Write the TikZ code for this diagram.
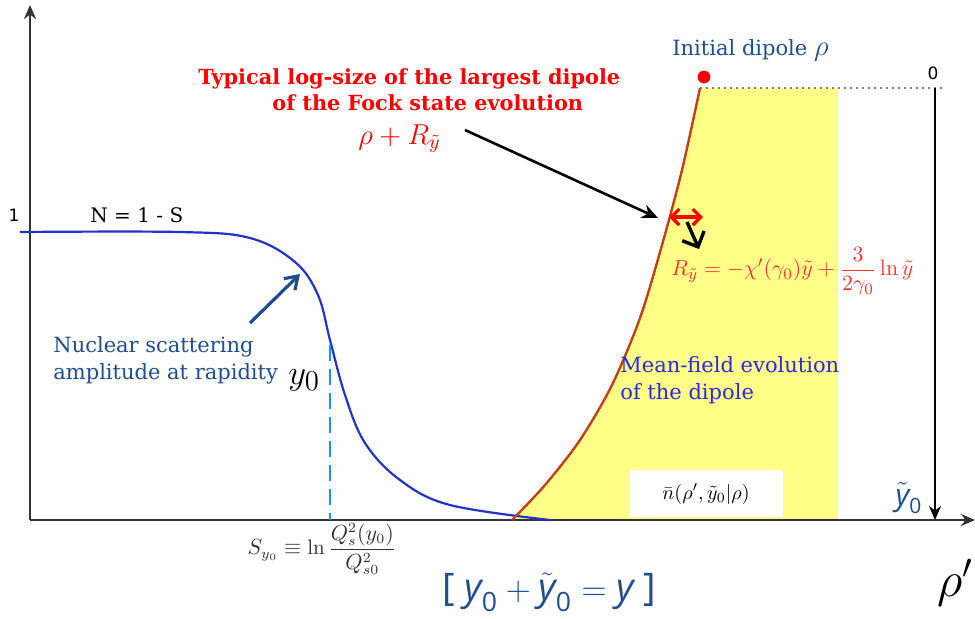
\documentclass[tikz,border=0pt]{standalone}
\usepackage{amsmath}
\usepackage{fontspec}
\newfontfamily\dserif{DejaVu Serif}
\newfontfamily\dsans{DejaVu Sans}
\newfontfamily\osans{Open Sans}
\usetikzlibrary{arrows.meta}
\definecolor{axisgray}{HTML}{333333}
\definecolor{nblue}{HTML}{2233CC}
\definecolor{dblue}{HTML}{1F4E8C}
\definecolor{mblue}{HTML}{2A2AE0}
\definecolor{brownred}{HTML}{C0401A}
\definecolor{yfill}{HTML}{FFFF88}
\definecolor{dashblue}{HTML}{1E90FF}
\definecolor{fred}{HTML}{FF3333}
\newcommand\syy{\text{\osans\itshape y}}
\tikzset{
  axisline/.style={draw=axisgray, line width=1.2pt, -{Stealth[length=7pt,width=6pt]}},
  lbl/.style={inner sep=0pt, anchor=base west},
  serifblue/.style={lbl, font=\dserif\fontsize{10.5}{12}\selectfont, text=dblue},
}
\begin{document}
\begin{tikzpicture}[x=0.5pt,y=-0.5pt]
\useasboundingbox (0,0) rectangle (975,618);
% yellow region
\fill[yfill] plot[smooth] coordinates {(512,520) (545,485) (580,440) (612,385) (640,318) (662,245) (682,170) (700,88)} -- (838,88) -- (838,520) -- cycle;
% white box
\fill[white] (630,470) rectangle (783,517);
\node[inner sep=0pt, font=\fontsize{10}{12}\selectfont] (nbox) at (706,494) {$\bar n(\rho',\tilde y_0|\rho)$};
% axes
\coordinate (orig) at (30,520);
\coordinate (ytop) at (30,5);
\coordinate (xend) at (975,520);
\draw[axisline] (orig) -- (ytop);
\draw[axisline] (orig) -- (xend);
% N curve
\draw[nblue, line width=1.1pt] plot[smooth, tension=0.6] coordinates {(20,232) (180,232) (250,238) (295,262) (318,295) (330,340) (345,395) (365,443) (400,480) (450,505) (550,520)};
% dashed line
\coordinate (dtop) at (330,345);
\coordinate (dbot) at (330,520);
\draw[dashblue, line width=1.2pt, dash pattern=on 8pt off 4pt] (dtop) -- (dbot);
% brown curve
\draw[brownred, line width=1.2pt] plot[smooth] coordinates {(512,520) (545,485) (580,440) (612,385) (640,318) (662,245) (682,170) (700,88)};
% dotted line and vertical arrow
\coordinate (dotA) at (700,88);
\coordinate (dotB) at (945,88);
\draw[gray, line width=1pt, dotted] (dotA) -- (dotB);
\coordinate (vtop) at (935,88);
\coordinate (vbot) at (935,520);
\draw[black, line width=1pt, -{Stealth[length=7pt,width=6pt]}] (vtop) -- (vbot);
% red dot
\fill[red] (704,77) circle (3.2pt);
% labels
\node[lbl, font=\dsans\fontsize{8.5}{9}\selectfont, anchor=center] (one) at (14,215) {1};
\node[lbl, font=\dsans\fontsize{8.5}{9}\selectfont, anchor=center] (zero) at (933,73) {0};
\node[lbl, font=\dserif\fontsize{10}{11}\selectfont] (nlab) at (90,222) {N = 1 - S};
\node[serifblue] (nuc1) at (53,352) {Nuclear scattering};
\node[serifblue] (nuc2) at (53,379) {amplitude at rapidity};
\node[lbl, font=\fontsize{19}{20}\selectfont] (y0) at (288,384) {$y_0$};
\coordinate (nucA) at (250,323);
\coordinate (nucB) at (300,274);
\draw[dblue, line width=1.6pt, -{Straight Barb[length=6pt,width=8pt]}] (nucA) -- (nucB);
% title
\node[lbl, font=\dserif\bfseries\fontsize{10.4}{12}\selectfont, text=red] (t1) at (198,84) {Typical log-size of the largest dipole};
\node[lbl, font=\dserif\bfseries\fontsize{10.4}{12}\selectfont, text=red] (t2) at (272,110) {of the Fock state evolution};
\node[lbl, font=\fontsize{14.5}{16}\selectfont, text=red] (rhoR) at (358,144) {$\rho+R_{\tilde y}$};
\coordinate (arrS) at (465,130);
\coordinate (arrE) at (658,218);
\draw[black, line width=1.3pt, -{Stealth[length=8pt,width=7pt]}] (arrS) -- (arrE);
% initial dipole
\node[serifblue] (init) at (672,55) {Initial dipole \fontsize{14}{15}\selectfont$\rho$};
% red double arrow
\coordinate (dA) at (669,217);
\coordinate (dB) at (703,217);
\draw[red, line width=1.6pt, {Straight Barb[length=4pt,width=8pt]}-{Straight Barb[length=4pt,width=8pt]}] (dA) -- (dB);
\coordinate (bA) at (687,222);
\coordinate (bB) at (699,249);
\draw[black, line width=1.7pt, -{Straight Barb[length=6pt,width=12pt]}] (bA) -- (bB);
% R formula
\node[lbl, anchor=west, font=\fontsize{11.2}{13}\selectfont, text=fred] (Rf) at (671,271) {$R_{\tilde y}=-\chi'(\gamma_0)\tilde y+\dfrac{3}{2\gamma_0}\ln\tilde y$};
% mean field
\node[lbl, font=\dserif\fontsize{10.5}{12}\selectfont, text=mblue] (mf1) at (620,372) {Mean-field evolution};
\node[lbl, font=\dserif\fontsize{10.5}{12}\selectfont, text=mblue] (mf2) at (620,399) {of the dipole};
% ytilde0
\node[lbl, anchor=center, font=\fontsize{15}{16}\selectfont, text=dblue] (yt0) at (909,498) {$\tilde{\syy}_{\text{\osans 0}}$};
% S formula
\node[lbl, anchor=center, font=\fontsize{10.5}{12}\selectfont, text=axisgray] (Sf) at (322,549) {$S_{y_0}\equiv\ln\dfrac{Q_s^2(y_0)}{Q_{s0}^2}$};
% bracket formula
\node[lbl, anchor=center, font=\osans\fontsize{19}{21}\selectfont, text=dblue] (brk) at (549,592) {[\ \(\syy_{\text{\osans 0}}+\tilde{\syy}_{\text{\osans 0}}=\syy\)\ ]};
% rho prime
\node[lbl, anchor=center, font=\fontsize{26}{28}\selectfont] (rp) at (955,583) {$\rho'$};
\end{tikzpicture}
\end{document}
